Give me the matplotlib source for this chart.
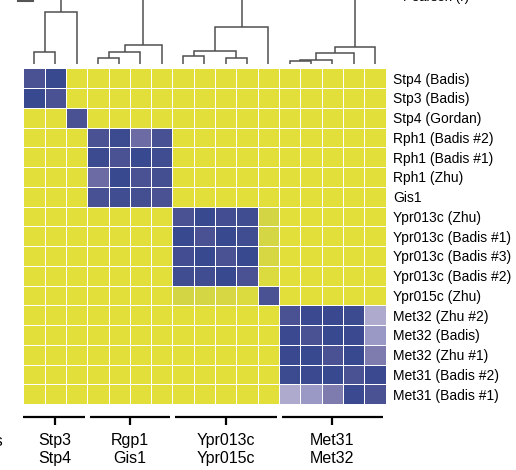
import numpy as np
import matplotlib.pyplot as plt
from matplotlib.colors import LinearSegmentedColormap
from matplotlib.lines import Line2D

plt.rcParams['font.family'] = ['Liberation Sans', 'DejaVu Sans']

# motif names, top to bottom (same order on the columns)
motifs = ["Stp4 (Badis)", "Stp3 (Badis)", "Stp4 (Gordan)",
          "Rph1 (Badis #2)", "Rph1 (Badis #1)", "Rph1 (Zhu)", "Gis1",
          "Ypr013c (Zhu)", "Ypr013c (Badis #1)", "Ypr013c (Badis #3)",
          "Ypr013c (Badis #2)", "Ypr015c (Zhu)",
          "Met32 (Zhu #2)", "Met32 (Badis)", "Met32 (Zhu #1)",
          "Met31 (Badis #2)", "Met31 (Badis #1)"]
groups = ["Stp3\nStp4", "Rgp1\nGis1", "Ypr013c\nYpr015c", "Met31\nMet32"]
group_sizes = [3, 4, 5, 5]

# Pearson r between motifs
background_r = 0.10
stp_r = [[1.00, 0.95],
         [0.95, 1.00]]
gordan_r = 1.00
rph_r = [[1.00, 0.96, 0.71, 0.86],
         [0.96, 1.00, 0.95, 0.90],
         [0.71, 0.95, 1.00, 0.88],
         [0.86, 0.90, 0.88, 1.00]]
ypr_r = [[1.00, 0.95, 0.89, 0.97, 0.40],
         [0.95, 1.00, 0.95, 0.97, 0.38],
         [0.89, 0.95, 1.00, 0.95, 0.37],
         [0.97, 0.97, 0.95, 1.00, 0.33],
         [0.40, 0.38, 0.37, 0.33, 1.00]]
met_r = [[1.00, 0.93, 0.94, 0.96, 0.50],
         [0.93, 1.00, 0.95, 0.93, 0.60],
         [0.94, 0.95, 1.00, 0.95, 0.66],
         [0.96, 0.93, 0.95, 1.00, 0.93],
         [0.50, 0.60, 0.66, 0.93, 1.00]]

# dendrogram merges: (left node, right node, height); new nodes numbered from 17
merges = [(0, 1, 12), (17, 2, 52),
          (3, 4, 6), (19, 5, 12), (20, 6, 19),
          (7, 8, 8), (9, 10, 6), (22, 23, 13), (24, 11, 37),
          (12, 13, 3), (26, 14, 4.5), (27, 15, 11), (28, 16, 17)]
roots = [18, 21, 25, 29]

n = len(motifs)
corr = np.full((n, n), background_r)
corr[0:2, 0:2] = stp_r
corr[2, 2] = gordan_r
corr[3:7, 3:7] = rph_r
corr[7:12, 7:12] = ypr_r
corr[12:17, 12:17] = met_r

cmap = LinearSegmentedColormap.from_list("yb", [
    (0.00, "#e3df3a"), (0.25, "#e3df3a"), (0.40, "#d3d544"),
    (0.48, "#b2aed0"), (0.60, "#9a98c4"), (0.68, "#7470a6"),
    (0.85, "#4a5294"), (0.95, "#38488f"), (1.00, "#4a5294")])

W, H = 516, 470
fig = plt.figure(figsize=(W / 100, H / 100), dpi=100)

def px_axes(x0, y0, x1, y1):
    return fig.add_axes([x0 / W, 1 - y1 / H, (x1 - x0) / W, (y1 - y0) / H])

# heatmap
ax = px_axes(23.3, 68.3, 385.5, 404)
ax.pcolormesh(corr, cmap=cmap, vmin=0, vmax=1, edgecolors="white", linewidth=0.7)
ax.set_xlim(0, n)
ax.set_ylim(n, 0)
ax.set_xticks([])
ax.yaxis.tick_right()
ax.set_yticks(np.arange(n) + 0.5)
ax.set_yticklabels(motifs, fontsize=10)
ax.tick_params(axis="y", length=0, pad=5.5)
for s in ax.spines.values():
    s.set_visible(False)

# dendrogram over the columns
axd = px_axes(23.3, 0, 385.5, 64)
axd.set_xlim(0, n)
axd.set_ylim(0, 64)
axd.axis("off")
pos = {i: (i + 0.5, 0.0) for i in range(n)}
lc = "#4f4f4f"
for k, (a, b, h) in enumerate(merges):
    xa, ha = pos[a]
    xb, hb = pos[b]
    axd.plot([xa, xa, xb, xb], [ha, h, h, hb], color=lc, lw=1.1,
             solid_capstyle="butt", solid_joinstyle="miter")
    pos[n + k] = ((xa + xb) / 2, h)
for r in roots:
    x, h = pos[r]
    axd.plot([x, x], [h, 80], color=lc, lw=1.1, solid_capstyle="butt")

# group brackets under the columns
axg = px_axes(23.3, 404, 385.5, 470)
axg.set_xlim(0, n)
axg.set_ylim(66, 0)
axg.axis("off")
start = 0
for label, size in zip(groups, group_sizes):
    end = start + size
    mid = (start + end) / 2
    axg.plot([start if start == 0 else start + 0.12, end - 0.1],
             [12.7, 12.7], color="black", lw=1.6, solid_capstyle="butt")
    axg.plot([mid, mid], [12.7, 21], color="black", lw=1.6, solid_capstyle="butt")
    axg.text(mid, 45.5, label, ha="center", va="center", fontsize=11.5,
             linespacing=1.2)
    start = end

fig.text(3.5 / W, 1 - 441 / H, "Proteins", ha="right", va="center", fontsize=11.5)
fig.text(436 / W, 1 - 1.5 / H, "Pearson (r)", ha="center", va="baseline", fontsize=9.5)
fig.add_artist(Line2D([18 / W, 33 / W], [1 - 0.5 / H, 1 - 0.5 / H],
                      color="#555555", lw=1.5, transform=fig.transFigure))

fig.savefig("out.png", dpi=100)
